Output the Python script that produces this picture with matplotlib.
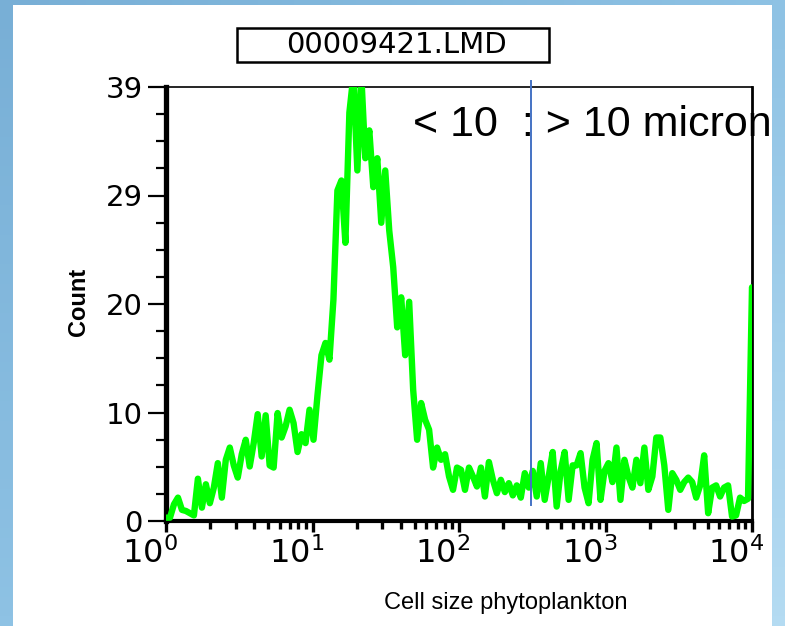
import numpy as np
import matplotlib
matplotlib.use('Agg')
import matplotlib.pyplot as plt
import matplotlib.transforms as mtransforms
from matplotlib.colors import LinearSegmentedColormap
from matplotlib.patches import Rectangle
from matplotlib.ticker import FixedLocator, LogLocator, NullFormatter

# Histogram counts per channel (channels spread evenly over four log decades)
counts = [
    0.3, 0.3, 1.5, 2.1, 1.0, 0.9, 0.7, 0.5, 3.8, 1.2,
    3.3, 1.6, 3.0, 5.2, 2.1, 5.5, 6.6, 5.0, 3.9, 6.0,
    7.3, 4.9, 7.0, 9.6, 5.8, 9.5, 5.0, 4.8, 9.7, 7.5,
    8.5, 10.0, 8.8, 6.2, 7.8, 7.0, 10.0, 7.3, 11.3, 14.9,
    16.0, 14.5, 19.9, 29.7, 30.6, 25.0, 36.7, 40.0, 31.5, 40.0,
    32.6, 35.1, 30.0, 32.6, 26.8, 31.5, 26.1, 22.8, 17.4, 20.1,
    14.9, 19.7, 11.8, 7.3, 10.6, 9.1, 8.2, 4.8, 6.6, 5.5,
    6.0, 4.0, 2.8, 4.8, 4.6, 2.8, 4.8, 4.0, 3.1, 4.8,
    2.2, 5.3, 3.7, 2.5, 3.7, 2.6, 3.4, 2.3, 3.2, 2.1,
    4.3, 3.0, 4.5, 2.2, 5.2, 1.9, 4.0, 6.2, 1.3, 4.5,
    6.2, 1.9, 5.0, 5.0, 6.1, 3.0, 1.6, 5.5, 7.0, 1.9,
    4.5, 5.2, 3.5, 6.6, 1.9, 5.5, 4.0, 3.0, 5.5, 3.4,
    6.6, 2.8, 4.0, 7.5, 7.5, 5.0, 1.0, 4.3, 3.7, 2.8,
    3.5, 3.9, 3.5, 2.1, 3.2, 5.9, 0.7, 3.0, 3.2, 2.2,
    3.0, 3.2, 0.4, 0.5, 2.1, 1.8, 2.0, 21.0,
]
channel_exp = np.linspace(0, 4, len(counts))
cell_size = 10 ** channel_exp

y_ticks = [0, 9.75, 19.5, 29.25, 39]
y_labels = ['0', '10', '20', '29', '39']
x_ticks = [1, 10, 100, 1000, 10000]
x_labels = [r'$\mathregular{10^{%d}}$' % i for i in range(5)]
cut_size = 312  # 10 micron boundary

W, H = 785, 626
fig = plt.figure(figsize=(W / 100, H / 100), dpi=100)

# blue backdrop + white slide panel
bg = fig.add_axes([0, 0, 1, 1])
bg.set_xlim(0, W)
bg.set_ylim(H, 0)
bg.axis('off')
blues = LinearSegmentedColormap.from_list('slide', ['#78afd6', '#8ec2e4', '#b4dbf2'])
gx, gy = np.meshgrid(np.linspace(0, 1, 64), np.linspace(0, 1, 64))
bg.imshow(0.5 * gx + 0.5 * gy, cmap=blues, extent=[0, W, H, 0], aspect='auto', zorder=0)
bg.add_patch(Rectangle((13, 5), 772 - 13, H - 5, facecolor='white', edgecolor='none', zorder=1))
bg.add_patch(Rectangle((237, 28), 549 - 237, 62 - 28, facecolor='none',
                       edgecolor='black', lw=1.8, zorder=2))
bg.text(396, 45, '00009421.LMD', fontsize=21, ha='center', va='center', zorder=3)

ax = fig.add_axes([166 / W, (H - 521) / H, 586 / W, 434 / H])
ax.plot(cell_size, counts, color='#00ff00', lw=4.6,
        solid_joinstyle='round', solid_capstyle='round', zorder=3)
ax.set_xscale('log')
ax.set_xlim(1, 1e4)
ax.set_ylim(0, 39)

ax.set_yticks(y_ticks, y_labels)
ax.yaxis.set_minor_locator(FixedLocator(np.arange(0, 39.01, 39 / 16)))
ax.set_xticks(x_ticks, x_labels)
ax.xaxis.set_minor_locator(LogLocator(base=10, subs=range(2, 10)))
ax.xaxis.set_minor_formatter(NullFormatter())

ax.tick_params(axis='y', which='major', direction='out', length=13, width=1.6,
               labelsize=21, pad=4)
ax.tick_params(axis='y', which='minor', direction='out', length=7, width=1.6)
ax.tick_params(axis='x', which='major', direction='out', length=8, width=2.4,
               labelsize=23, pad=4)
ax.tick_params(axis='x', which='minor', direction='out', length=6, width=2.4)
shift = mtransforms.ScaledTranslation(-16 / 100, 0, fig.dpi_scale_trans)
for lbl in ax.get_xticklabels():
    lbl.set_transform(lbl.get_transform() + shift)

ax.spines['left'].set_linewidth(3.8)
ax.spines['bottom'].set_linewidth(3.0)
ax.spines['right'].set_linewidth(2.0)
ax.spines['top'].set_linewidth(1.2)

# size cut-off marker
ax.plot([cut_size, cut_size], [0.037, 1.014], transform=ax.get_xaxis_transform(),
        color='#4472c4', lw=1.4, clip_on=False, zorder=4)

fig.text(413 / W, 1 - 125 / H, '< 10  : > 10 micron', fontsize=31,
         family='Liberation Sans', ha='left', va='center')
fig.text(506 / W, 1 - 603 / H, 'Cell size phytoplankton', fontsize=17,
         family='Liberation Sans', ha='center', va='center')
fig.text(78 / W, 1 - 302 / H, 'Count', rotation=90, fontsize=17, weight='bold',
         family='Liberation Sans', ha='center', va='center')

fig.savefig('out.png', dpi=100)
